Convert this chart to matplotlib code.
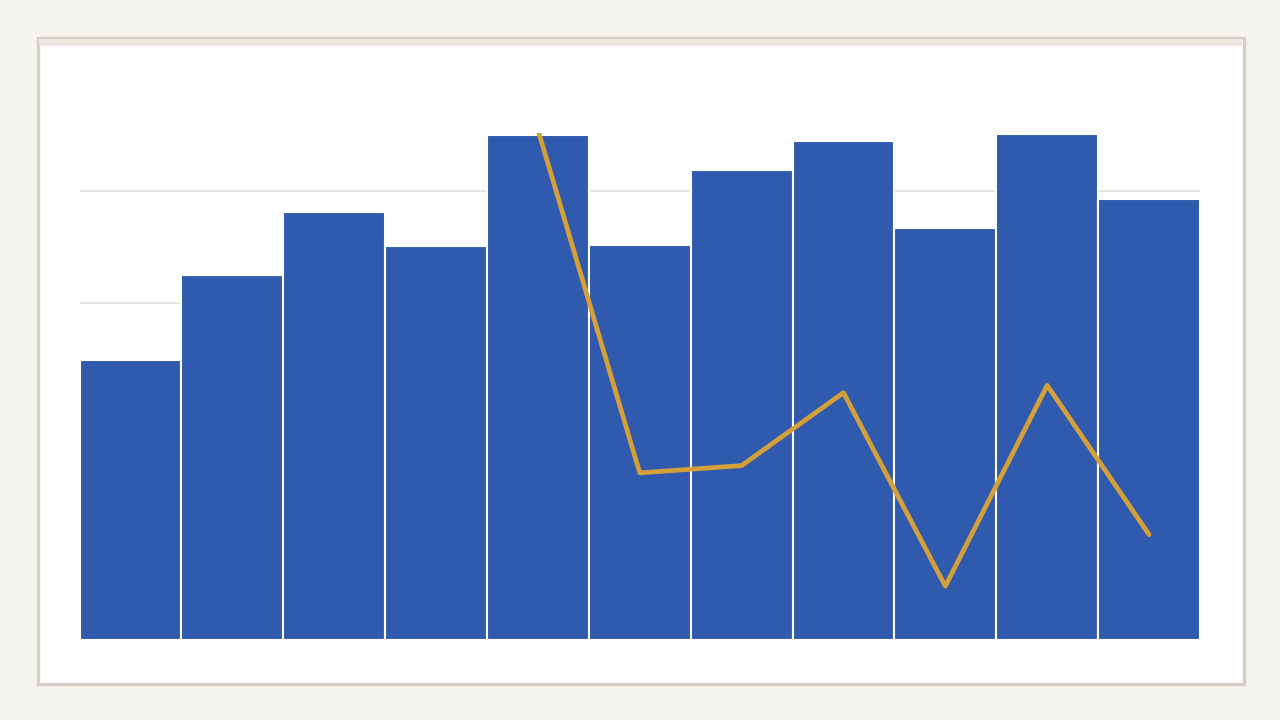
import numpy as np
import matplotlib.pyplot as plt
from matplotlib.patches import Rectangle

# values
categories = list(range(11))
bar_values = [50.0, 65.0, 76.3, 70.2, 90.0, 70.4, 83.8, 88.9, 73.4, 90.2, 78.6]
line_values = [np.nan, np.nan, np.nan, np.nan, 91.0, 29.8, 31.1, 44.1, 9.6, 45.4, 18.8]
y_ticks = [0, 20, 40, 60, 80]

BAR_COLOR = "#2f5aae"
LINE_COLOR = "#d6a038"
GRID_COLOR = "#e2dfd5"


def make_chart():
    fig = plt.figure(figsize=(12.8, 7.2), dpi=100, facecolor="#f5f4ef")

    # card with border and top strip (behind the axes)
    W, H = 1280, 720
    card = Rectangle((37.5 / W, (H - 683.5) / H), (1243.5 - 37.5) / W, (683.5 - 37.5) / H,
                     transform=fig.transFigure, facecolor="white",
                     edgecolor="#d5d0c5", linewidth=2.4, zorder=-2)
    fig.patches.append(card)
    strip = Rectangle((39 / W, (H - 46) / H), (1242 - 39) / W, 7 / H,
                      transform=fig.transFigure, facecolor="#ebe7de",
                      edgecolor="none", zorder=-1)
    fig.patches.append(strip)

    ax = fig.add_axes([79.5 / W, 80 / H, 1120.5 / W, 507 / H])
    ax.set_facecolor("none")

    x = np.arange(len(categories))
    ax.bar(x, bar_values, width=1.0, color=BAR_COLOR, edgecolor="white",
           linewidth=1.5, zorder=2)
    ax.plot(x, line_values, color=LINE_COLOR, lw=3.4, zorder=3,
            solid_capstyle="round", solid_joinstyle="round")

    ax.set_xlim(-0.5, len(categories) - 0.5)
    ax.set_ylim(0, 90.4)
    ax.set_yticks(y_ticks)
    ax.grid(axis="y", color=GRID_COLOR, linewidth=1.2, zorder=0)
    ax.set_axisbelow(True)
    ax.tick_params(left=False, bottom=False, labelleft=False, labelbottom=False)
    for s in ax.spines.values():
        s.set_visible(False)

    fig.savefig("out.png", dpi=100, facecolor=fig.get_facecolor())


if __name__ == "__main__":
    make_chart()
